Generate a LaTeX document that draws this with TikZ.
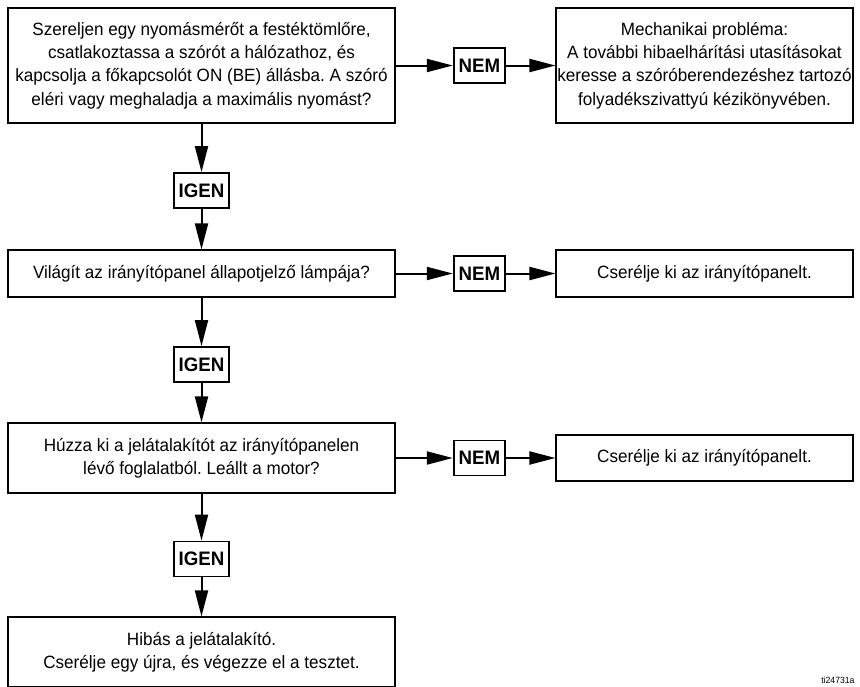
\documentclass[tikz,border=0pt]{standalone}
\usepackage{fontspec}
\setmainfont{Liberation Sans}[FakeStretch=0.96]
\usetikzlibrary{arrows.meta}
\frenchspacing

\begin{document}
\begin{tikzpicture}[x=1pt,y=-1pt,
    font=\fontsize{17.8}{23.3}\selectfont,
    qbox/.style={draw,line width=1.1pt,align=center,minimum width=387pt,inner sep=0pt},
    abox/.style={draw,line width=1.1pt,align=center,minimum width=297pt,inner sep=0pt},
    ans/.style={draw,line width=1.8pt,font=\bfseries\fontsize{19.5}{22}\selectfont,
                minimum height=35pt,inner xsep=5pt,inner ysep=0pt},
    flow/.style={line width=2pt,-{Triangle[length=26pt,width=13pt]}}]
  \useasboundingbox (0,0) rectangle (860,686);
  % left column: questions
  \node[qbox,minimum height=115pt] (q1) at (201.5,65.5)
        {Szereljen egy nyomásmérőt a festéktömlőre,\\
         csatlakoztassa a szórót a hálózathoz, és\\
         kapcsolja a főkapcsolót ON (BE) állásba. A szóró\\
         eléri vagy meghaladja a maximális nyomást?};
  \node[qbox,minimum height=47pt] (q2) at (201.5,273.5)
        {Világít az irányítópanel állapotjelző lámpája?};
  \node[qbox,minimum height=70pt] (q3) at (201.5,458)
        {Húzza ki a jelátalakítót az irányítópanelen\\
         lévő foglalatból. Leállt a motor?};
  \node[qbox,minimum height=70pt] (q4) at (201.5,652)
        {Hibás a jelátalakító.\\
         Cserélje egy újra, és végezze el a tesztet.};
  % right column: remedies
  \node[abox,minimum height=115pt] (r1) at (704.5,65.5)
        {Mechanikai probléma:\\
         A további hibaelhárítási utasításokat\\
         keresse a szóróberendezéshez tartozó\\
         folyadékszivattyú kézikönyvében.};
  \node[abox,minimum height=47pt] (r2) at (704.5,273.5)
        {Cserélje ki az irányítópanelt.};
  \node[abox,minimum height=46pt] (r3) at (704.5,458)
        {Cserélje ki az irányítópanelt.};
  % answers
  \node[ans] (n1) at (479.5,65.5) {NEM};
  \node[ans] (n2) at (479.5,273.5) {NEM};
  \node[ans] (n3) at (479.5,458) {NEM};
  \node[ans] (i1) at (201.5,190.5) {IGEN};
  \node[ans] (i2) at (201.5,364.5) {IGEN};
  \node[ans] (i3) at (201.5,559) {IGEN};
  % connectors
  \foreach \k/\n in {1/2,2/3,3/4} {
    \draw[flow] (q\k.east) -- (n\k.west);
    \draw[flow] (q\k.south) -- (i\k.north);
    \draw[flow] (i\k.south) -- (q\n.north);
  }
  \foreach \k in {1,2,3}
    \draw[flow] (n\k.east) -- (r\k.west);
  \node[font=\fontsize{9}{10}\selectfont,anchor=base east] (tag) at (858,683) {ti24731a};
\end{tikzpicture}
\end{document}
